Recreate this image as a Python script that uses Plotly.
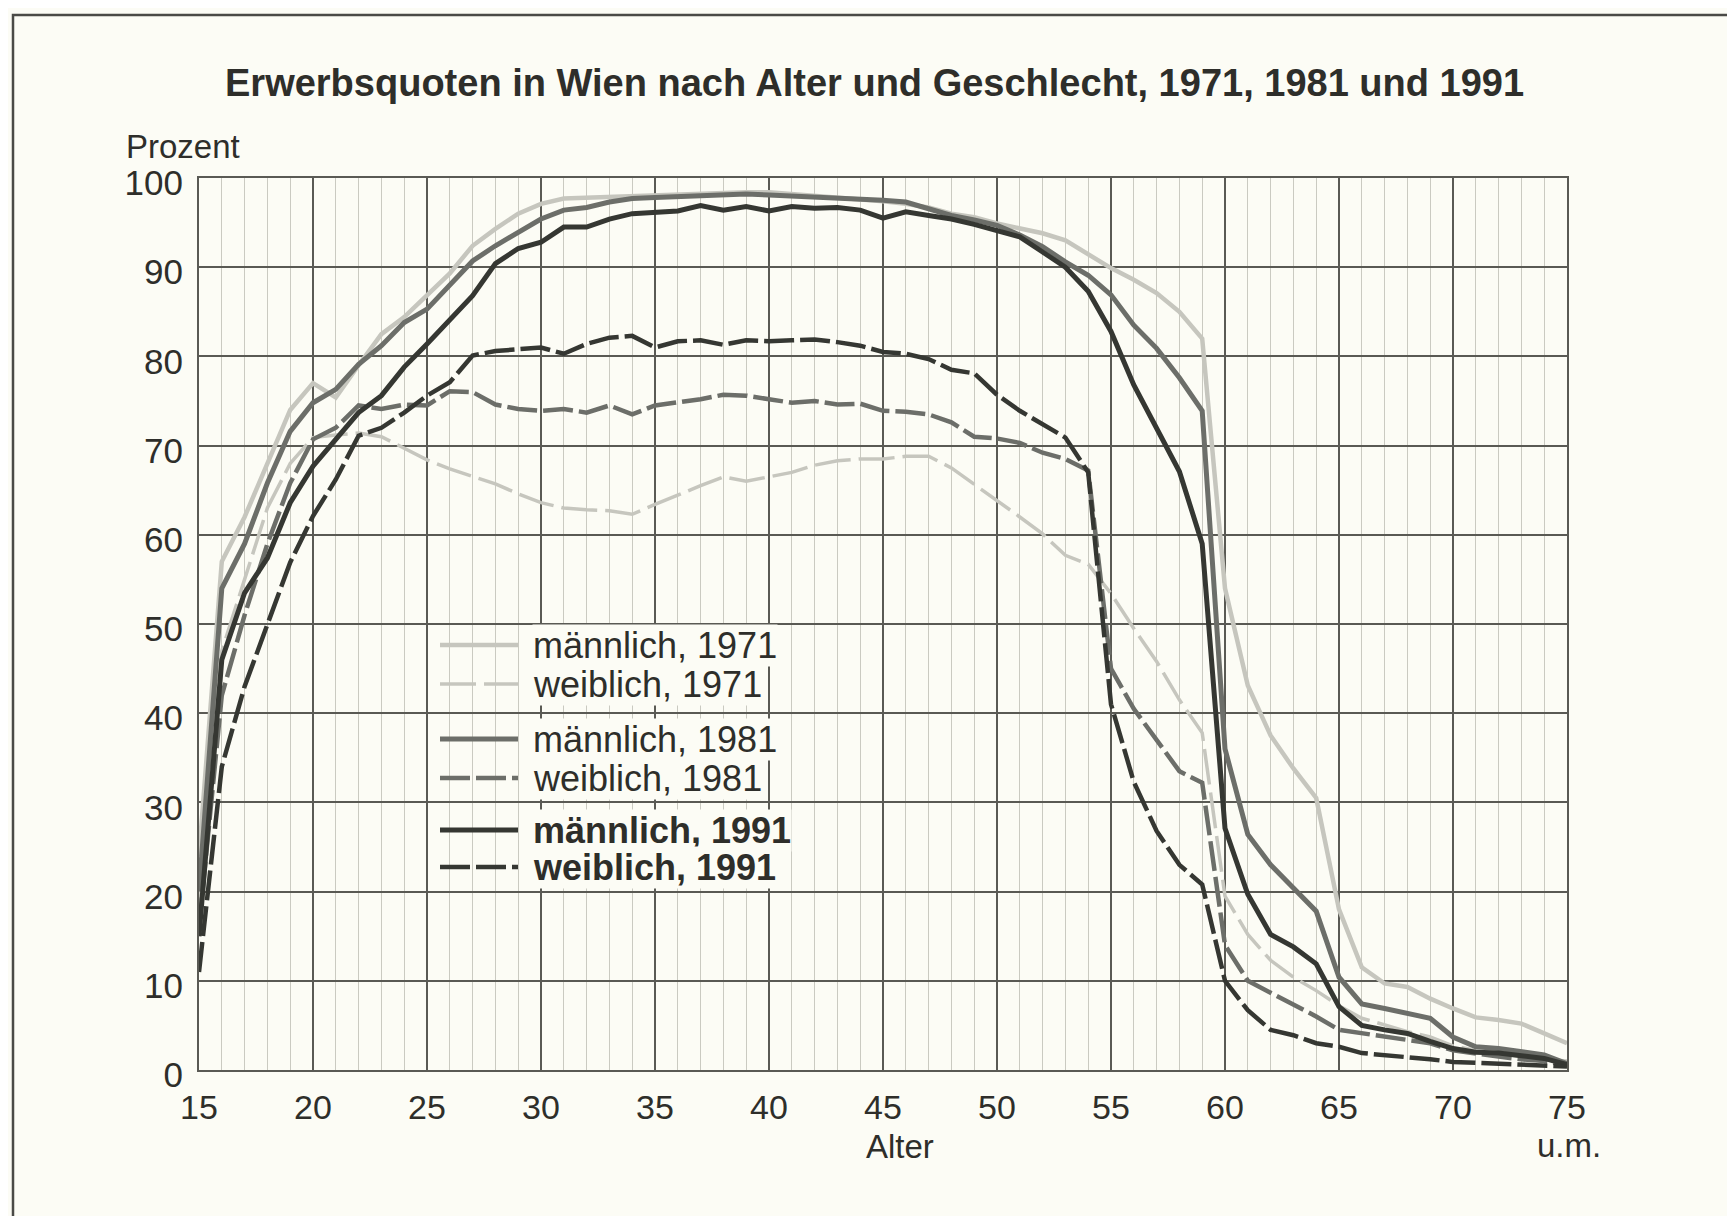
import plotly.graph_objects as go

# ---------------- data ----------------
ages = list(range(15, 76))
x_ticks = [15, 20, 25, 30, 35, 40, 45, 50, 55, 60, 65, 70, 75]
y_ticks = [0, 10, 20, 30, 40, 50, 60, 70, 80, 90, 100]

m1971 = [24, 57, 62, 68, 74, 77, 75.4, 79, 82.5, 84.4, 86.8, 89.3, 92.4, 94.3, 96, 97.1,
         97.7, 97.8, 97.9, 98, 98.1, 98.2, 98.3, 98.4, 98.4, 98.4, 98.2, 98.1, 97.9, 97.7,
         97.4, 97.1, 96.7, 96, 95.6, 94.9, 94.3, 93.8, 93, 91.4, 89.9, 88.6, 87.1, 85, 82,
         54, 43.1, 37.5, 33.8, 30.5, 18, 11.5, 9.7, 9.3, 8, 6.9, 5.9, 5.6, 5.2, 4.1, 3]
f1971 = [19, 47, 55, 63, 68, 70.9, 71.2, 71.4, 71, 69.7, 68.4, 67.4, 66.5, 65.7, 64.6, 63.6,
         63, 62.8, 62.7, 62.3, 63.4, 64.5, 65.5, 66.5, 66, 66.5, 67, 67.8, 68.3, 68.5, 68.5,
         68.8, 68.8, 67.5, 65.7, 63.8, 62, 60.1, 57.7, 56.7, 53.4, 49.5, 45.8, 41.5, 37.8,
         19.5, 15.2, 12.3, 10.4, 8.9, 7.2, 5.8, 5, 4.3, 3.7, 2.7, 2.2, 1.8, 1.5, 1.2, 1]
m1981 = [20, 54, 59, 65.8, 71.6, 74.8, 76.3, 79.1, 81.2, 83.8, 85.3, 87.9, 90.7, 92.4, 93.9,
         95.4, 96.4, 96.7, 97.3, 97.7, 97.8, 97.9, 98, 98.2, 98.2, 98.1, 98, 97.8, 97.7, 97.7,
         97.5, 97.3, 96.5, 95.8, 95.3, 94.7, 93.6, 92.3, 90.6, 89.1, 86.9, 83.5, 80.9, 77.6,
         73.9, 36, 26.4, 23, 20.4, 17.8, 10.4, 7.4, 6.9, 6.3, 5.8, 3.7, 2.6, 2.4, 2, 1.7, 0.7]
f1981 = [16, 42, 51, 59, 65.8, 70.7, 72, 74.5, 74.1, 74.6, 74.5, 76.1, 76, 74.6, 74.1, 73.9,
         74.1, 73.7, 74.5, 73.5, 74.5, 74.8, 75.2, 75.7, 75.6, 75.2, 74.8, 75, 74.6, 74.7,
         73.9, 73.8, 73.5, 72.6, 71, 70.8, 70.3, 69.2, 68.5, 67.2, 45, 40.5, 37, 33.5, 32.2,
         14, 10, 8.7, 7.4, 6, 4.5, 4.1, 3.7, 3.3, 3, 2.2, 1.8, 1.5, 1.2, 1, 0.5]
m1991 = [15, 46, 53.5, 57.4, 63.6, 67.7, 70.7, 73.7, 75.6, 78.8, 81.4, 84.2, 86.8, 90.4, 92.1,
         92.8, 94.5, 94.5, 95.4, 96, 96.1, 96.3, 96.9, 96.4, 96.8, 96.3, 96.8, 96.6, 96.7,
         96.4, 95.5, 96.2, 95.8, 95.4, 94.8, 94.1, 93.4, 91.7, 90, 87.3, 82.8, 76.8, 72, 67.1,
         59, 27.1, 19.7, 15.2, 13.8, 11.9, 7.1, 5, 4.5, 4.1, 3.2, 2.4, 2, 1.9, 1.6, 1.3, 0.6]
f1991 = [11, 34, 43, 50, 56.9, 62.1, 66.2, 71.1, 72, 73.7, 75.6, 77.1, 80.1, 80.6, 80.8, 81,
         80.3, 81.4, 82.1, 82.3, 81, 81.7, 81.8, 81.3, 81.8, 81.7, 81.8, 81.9, 81.6, 81.2,
         80.5, 80.3, 79.7, 78.5, 78.1, 75.7, 73.9, 72.4, 70.9, 67, 41, 32.3, 26.8, 23, 20.8,
         10, 6.7, 4.5, 3.9, 3, 2.6, 1.9, 1.7, 1.4, 1.2, 0.9, 0.8, 0.7, 0.6, 0.5, 0.4]

series_names = ["männlich, 1971", "weiblich, 1971", "männlich, 1981",
                "weiblich, 1981", "männlich, 1991", "weiblich, 1991"]
series_values = [m1971, f1971, m1981, f1981, m1991, f1991]

# ---------------- styles ----------------
BG = "#fcfcf5"
TXT = "#2e2e2a"
GRID_MAJOR = "#5a5a54"
GRID_MINOR = "#cacac1"
FONT = "Liberation Sans"
c_light, c_mid, c_dark = "#c6c6be", "#6c6e69", "#353732"
styles = [
    dict(color=c_light, width=4.5, dash="solid"),
    dict(color=c_light, width=3.5, dash="36px,8px"),
    dict(color=c_mid, width=5, dash="solid"),
    dict(color=c_mid, width=4.5, dash="30px,6px"),
    dict(color=c_dark, width=5, dash="solid"),
    dict(color=c_dark, width=4.5, dash="30px,6px"),
]
bold = [False, False, False, False, True, True]

fig = go.Figure()
for name, vals, st in zip(series_names, series_values, styles):
    fig.add_trace(go.Scatter(x=ages, y=vals, mode="lines", name=name,
                             line=st, showlegend=False, hoverinfo="x+y+name"))

# page offset (body margin) and plot area in page pixels
OFF = 8
L, R, T, B = 199, 1567, 178, 1070
W, H = 1735 - OFF, 1216 - OFF
def px(xp):
    return (xp - L) / (R - L)
def py(yp):
    return (B - yp) / (B - T)

annotations = []
shapes = []

# title and axis texts
annotations.append(dict(text="<b>Erwerbsquoten in Wien nach Alter und Geschlecht, 1971, 1981 und 1991</b>",
                        x=px(874), y=py(83), xref="paper", yref="paper",
                        xanchor="center", yanchor="middle", showarrow=False,
                        font=dict(family=FONT, size=38, color=TXT)))
annotations.append(dict(text="Prozent", x=px(124), y=py(147), xref="paper", yref="paper",
                        xanchor="left", yanchor="middle", showarrow=False,
                        font=dict(family=FONT, size=33, color=TXT)))
annotations.append(dict(text="Alter", x=px(900), y=py(1146), xref="paper", yref="paper",
                        xanchor="center", yanchor="middle", showarrow=False,
                        font=dict(family=FONT, size=33, color=TXT)))
annotations.append(dict(text="u.m.", x=px(1569), y=py(1145), xref="paper", yref="paper",
                        xanchor="center", yanchor="middle", showarrow=False,
                        font=dict(family=FONT, size=33, color=TXT)))

# custom legend inside the plot
leg_y = [645, 684, 739, 778, 830, 867]
for name, st, yy, b in zip(series_names, styles, leg_y, bold):
    shapes.append(dict(type="line", xref="paper", yref="paper",
                       x0=px(440), x1=px(518), y0=py(yy), y1=py(yy),
                       line=dict(color=st["color"], width=st["width"], dash=st["dash"])))
    annotations.append(dict(text=("<b>%s</b>" % name) if b else name,
                            x=px(532), y=py(yy), xref="paper", yref="paper",
                            xanchor="left", yanchor="middle", showarrow=False,
                            bgcolor=BG, borderpad=0,
                            font=dict(family=FONT, size=36, color=TXT)))

# outer frame of the figure
shapes.append(dict(type="rect", xref="paper", yref="paper",
                   x0=px(13), x1=px(1731), y0=py(1240), y1=py(15),
                   line=dict(color="#4a4a46", width=2.5)))

fig.update_layout(
    width=W, height=H, autosize=False,
    margin=dict(l=L - OFF, r=W - (R - OFF), t=T - OFF, b=H - (B - OFF), pad=0),
    paper_bgcolor=BG, plot_bgcolor=BG,
    font=dict(family=FONT, size=34, color=TXT),
    annotations=annotations, shapes=shapes,
    showlegend=False,
)
fig.update_xaxes(range=[15, 75], tickvals=x_ticks, ticktext=[str(v) for v in x_ticks],
                 showgrid=True, gridcolor=GRID_MAJOR, gridwidth=1.6,
                 minor=dict(dtick=1, tick0=15, showgrid=True, gridcolor=GRID_MINOR, gridwidth=1),
                 showline=True, linecolor=GRID_MAJOR, linewidth=2, mirror=True,
                 ticks="", zeroline=False, tickfont=dict(family=FONT, size=34, color=TXT),
                 ticklabelstandoff=6)
fig.update_yaxes(range=[0, 100], tickvals=y_ticks, ticktext=[str(v) for v in y_ticks],
                 showgrid=True, gridcolor=GRID_MAJOR, gridwidth=1.6,
                 showline=True, linecolor=GRID_MAJOR, linewidth=2, mirror=True,
                 ticks="", zeroline=False, tickfont=dict(family=FONT, size=35, color=TXT),
                 ticklabelstandoff=7, ticklabelshift=5)

fig.write_html("out.html")
